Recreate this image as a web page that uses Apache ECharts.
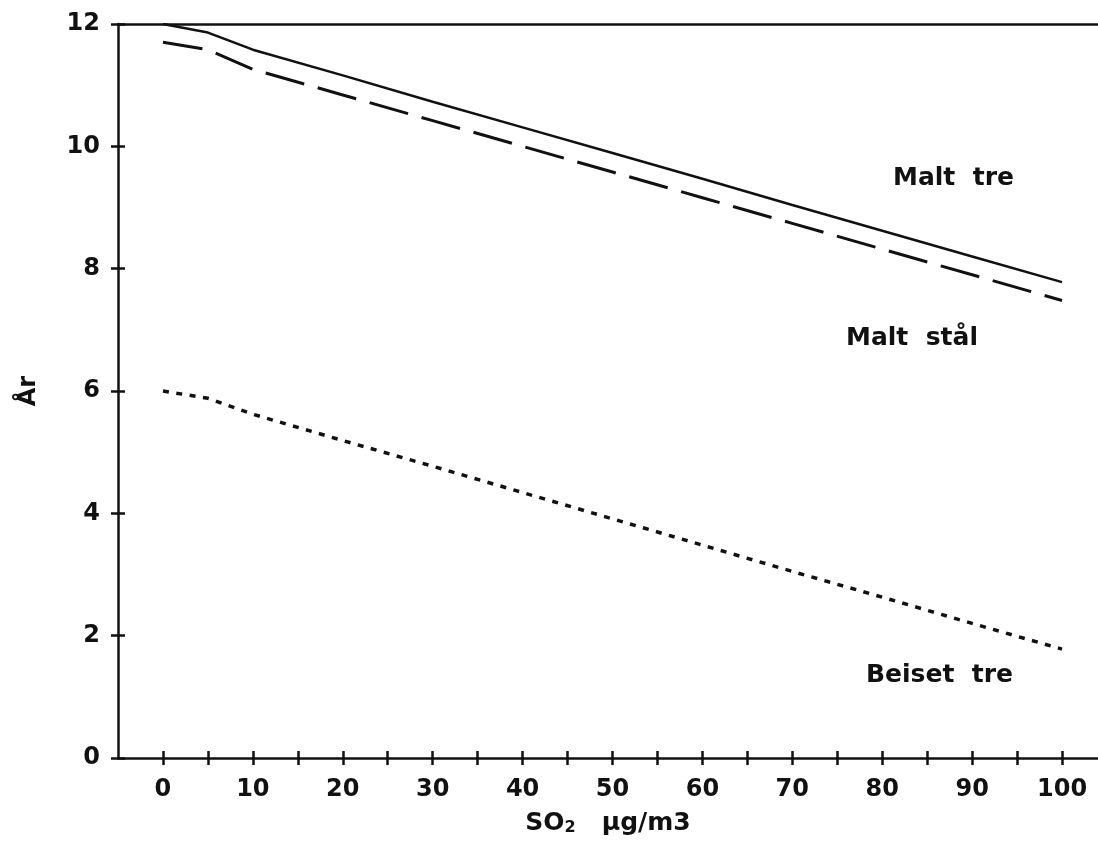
<!DOCTYPE html>
<html>
<head>
    <meta charset="utf-8">
    <title>SO2 og levetid</title>
    <script type="text/javascript" src="https://cdn.jsdelivr.net/npm/echarts@6/dist/echarts.min.js"></script>
    <style type="text/css">
    html,body{
        margin: 0;
        height: 100%;
        background: #fff;
    }
        #main{
            width: 1098px;
            height: 848px;
        }
    </style>
</head>
<body>
    <div id="main"></div>

    <script type="text/javascript">
// SO2 (ug/m3) og antall år
var so2 = [0, 5, 10, 20, 30, 40, 50, 60, 70, 80, 90, 100];
var maltTre = [12.0, 11.86, 11.58, 11.16, 10.73, 10.31, 9.89, 9.47, 9.04, 8.62, 8.20, 7.78];
var maltStal = [11.70, 11.58, 11.26, 10.84, 10.42, 10.00, 9.58, 9.16, 8.74, 8.32, 7.90, 7.48];
var beisetTre = [6.00, 5.88, 5.62, 5.19, 4.77, 4.34, 3.91, 3.48, 3.05, 2.63, 2.20, 1.78];

var xTicks = [0, 5, 10, 15, 20, 25, 30, 35, 40, 45, 50, 55, 60, 65, 70, 75, 80, 85, 90, 95, 100];
var xLabels = [0, 10, 20, 30, 40, 50, 60, 70, 80, 90, 100];
var yTicks = [0, 2, 4, 6, 8, 10, 12];

var font = 'DejaVu Sans';
var black = '#111';

function pairs(ys) {
    return so2.map(function (x, i) { return [x, ys[i]]; });
}

var myChart = echarts.init(document.getElementById('main'));

var lineAxis = { show: true, onZero: false, lineStyle: { color: black, width: 2.5 } };
var noLine = { show: false, onZero: false };

myChart.setOption({
    animation: false,
    grid: { left: 118, right: 0, top: 24, bottom: 90 },
    xAxis: [
        {
            type: 'value', min: -5, max: 104, position: 'bottom',
            axisLine: lineAxis,
            axisTick: { show: true, customValues: xTicks, length: 7, lineStyle: { color: black, width: 2.5 } },
            axisLabel: { customValues: xLabels, margin: 20, color: black, fontFamily: font, fontWeight: 'bold', fontSize: 24 },
            splitLine: { show: false },
            name: 'SO{s|2}   μg/m3',
            nameLocation: 'middle',
            nameGap: 52,
            nameTextStyle: {
                color: black, fontFamily: font, fontWeight: 'bold', fontSize: 25,
                rich: { s: { fontSize: 16, fontFamily: font, fontWeight: 'bold', color: black, padding: [10, 0, 0, 0] } }
            }
        },
        {
            type: 'value', min: -5, max: 104, position: 'bottom',
            axisLine: noLine,
            axisTick: { show: true, inside: true, customValues: xTicks, length: 7, lineStyle: { color: black, width: 2.5 } },
            axisLabel: { show: false },
            splitLine: { show: false }
        },
        {
            type: 'value', min: -5, max: 104, position: 'top',
            axisLine: lineAxis,
            axisTick: { show: false },
            axisLabel: { show: false },
            splitLine: { show: false }
        }
    ],
    yAxis: [
        {
            type: 'value', min: 0, max: 12, position: 'left',
            axisLine: lineAxis,
            axisTick: { show: true, customValues: yTicks, length: 7, lineStyle: { color: black, width: 2.5 } },
            axisLabel: { customValues: yTicks, margin: 18, color: black, fontFamily: font, fontWeight: 'bold', fontSize: 24 },
            splitLine: { show: false },
            name: 'År',
            nameLocation: 'middle',
            nameRotate: 90,
            nameGap: 77,
            nameTextStyle: { color: black, fontFamily: font, fontWeight: 'bold', fontSize: 24 }
        },
        {
            type: 'value', min: 0, max: 12, position: 'left',
            axisLine: noLine,
            axisTick: { show: true, inside: true, customValues: yTicks, length: 7, lineStyle: { color: black, width: 2.5 } },
            axisLabel: { show: false },
            splitLine: { show: false }
        }
    ],
    graphic: [
        { type: 'text', left: 893, top: 166, style: { text: 'Malt  tre', fill: black, font: 'bold 25px "DejaVu Sans"' } },
        { type: 'text', left: 846, top: 326, style: { text: 'Malt  stål', fill: black, font: 'bold 25px "DejaVu Sans"' } },
        { type: 'text', left: 866, top: 663, style: { text: 'Beiset  tre', fill: black, font: 'bold 25px "DejaVu Sans"' } }
    ],
    series: [
        {
            name: 'Malt tre', type: 'line', showSymbol: false,
            data: pairs(maltTre),
            lineStyle: { color: black, width: 2.5, type: 'solid' }
        },
        {
            name: 'Malt stål', type: 'line', showSymbol: false,
            data: pairs(maltStal),
            lineStyle: { color: black, width: 3, type: [40, 14] }
        },
        {
            name: 'Beiset tre', type: 'line', showSymbol: false,
            data: pairs(beisetTre),
            lineStyle: { color: black, width: 3.5, type: [6, 7.5] }
        }
    ]
});
    </script>

</body>
</html>
